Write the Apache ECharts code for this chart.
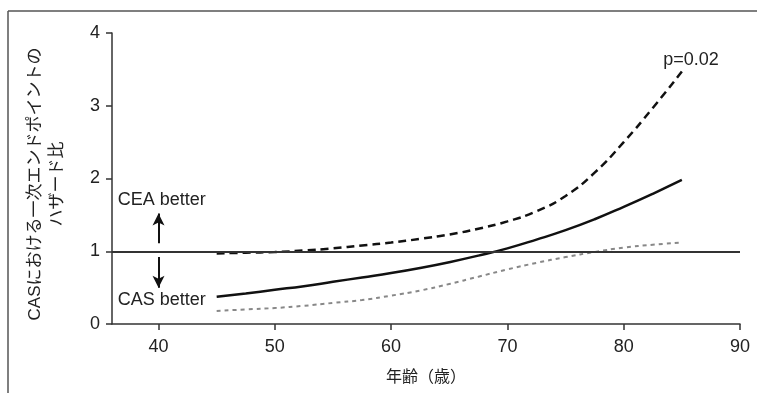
<!DOCTYPE html>
<html>
<head>
<meta charset="utf-8">
<script src="https://cdn.jsdelivr.net/npm/echarts@6/dist/echarts.min.js"></script>
<style>
html,body{margin:0;padding:0;background:#fff;}
#chart{width:757px;height:393px;}
</style>
</head>
<body>
<div id="chart"></div>
<script>
const ages = [45, 47.5, 50, 52.5, 55, 57.5, 60, 62.5, 65, 67.5, 70, 72.5, 75, 77.5, 80, 82.5, 85];
const hrEstimate = [0.375, 0.42, 0.47, 0.52, 0.58, 0.64, 0.70, 0.77, 0.85, 0.94, 1.04, 1.16, 1.29, 1.44, 1.61, 1.79, 1.98];
const hrUpper = [0.97, 0.98, 0.99, 1.01, 1.04, 1.08, 1.12, 1.17, 1.23, 1.31, 1.41, 1.55, 1.76, 2.08, 2.50, 2.97, 3.47];
const hrLower = [0.18, 0.20, 0.22, 0.25, 0.29, 0.33, 0.39, 0.46, 0.55, 0.65, 0.75, 0.84, 0.92, 0.99, 1.05, 1.09, 1.12];
const xTicks = [40, 50, 60, 70, 80, 90];
const yTicks = [0, 1, 2, 3, 4];
const referenceHR = 1;
const pLabel = 'p=0.02';
const xName = '年齢（歳）';
const yName = 'CASにおける一次エンドポイントの\nハザード比';

const FONT = '"Liberation Sans", Arial, "Noto Sans CJK JP", sans-serif';
const pair = (xs, ys) => xs.map((x, i) => [x, ys[i]]);

const chart = echarts.init(document.getElementById('chart'), null, {renderer: 'canvas'});
chart.setOption({
  animation: false,
  backgroundColor: '#fff',
  textStyle: {fontFamily: FONT},
  graphic: [
    {type: 'line', shape: {x1: 8, y1: 11, x2: 757, y2: 11}, style: {stroke: '#555', lineWidth: 1.5}},
    {type: 'line', shape: {x1: 8, y1: 11, x2: 8, y2: 393}, style: {stroke: '#555', lineWidth: 1.5}},
    {type: 'text', x: 46, y: 184, rotation: Math.PI / 2,
      style: {text: yName, font: '17px ' + FONT, fill: '#222', align: 'center', verticalAlign: 'middle', lineHeight: 22}}
  ],
  grid: {left: 112, right: 17, top: 33, bottom: 69, outerBoundsMode: 'none'},
  xAxis: {
    type: 'value', min: 36, max: 90,
    name: xName, nameLocation: 'middle', nameGap: 46,
    nameTextStyle: {fontSize: 16, color: '#222', fontFamily: FONT},
    axisLine: {show: true, lineStyle: {color: '#333', width: 1.5}},
    axisTick: {show: true, length: 6, lineStyle: {color: '#333', width: 1.5}, customValues: xTicks},
    axisLabel: {customValues: xTicks, fontSize: 18, color: '#222', margin: 14, fontFamily: FONT},
    splitLine: {show: false}
  },
  yAxis: {
    type: 'value', min: 0, max: 4, interval: 1,
    axisLine: {show: true, lineStyle: {color: '#333', width: 1.5}},
    axisTick: {show: true, length: 6, lineStyle: {color: '#333', width: 1.5}},
    axisLabel: {fontSize: 18, color: '#222', margin: 12, fontFamily: FONT,
      formatter: v => yTicks.includes(v) ? String(v) : ''},
    splitLine: {show: false}
  },
  series: [
    {
      name: 'upper', type: 'line', smooth: true, showSymbol: false,
      data: pair(ages, hrUpper),
      lineStyle: {color: '#111', width: 2.5, type: [8, 5]},
      z: 3
    },
    {
      name: 'lower', type: 'line', smooth: true, showSymbol: false,
      data: pair(ages, hrLower),
      lineStyle: {color: '#888', width: 2, type: [4, 4]},
      z: 3
    },
    {
      name: 'estimate', type: 'line', smooth: true, showSymbol: false,
      data: pair(ages, hrEstimate),
      lineStyle: {color: '#111', width: 2.5},
      z: 4,
      markLine: {
        silent: true, animation: false,
        data: [
          [{coord: [36, referenceHR], symbol: 'none', lineStyle: {color: '#333', width: 2, type: 'solid'}},
           {coord: [90, referenceHR], symbol: 'none'}],
          [{coord: [40, 1.11], symbol: 'none', lineStyle: {color: '#111', width: 2, type: 'solid'}},
           {coord: [40, 1.52], symbol: 'arrow', symbolSize: [9, 12]}],
          [{coord: [40, 0.92], symbol: 'none', lineStyle: {color: '#111', width: 2, type: 'solid'}},
           {coord: [40, 0.50], symbol: 'arrow', symbolSize: [9, 12]}]
        ],
        label: {show: false}
      },
      markPoint: {
        silent: true, symbol: 'circle', symbolSize: 0,
        label: {show: true, fontSize: 18, color: '#222', fontFamily: FONT, align: 'left', verticalAlign: 'middle', position: 'inside'},
        data: [
          {coord: [36.5, 1.70], value: 'CEA better', label: {formatter: 'CEA better'}},
          {coord: [36.5, 0.33], value: 'CAS better', label: {formatter: 'CAS better'}},
          {coord: [83.4, 3.63], value: pLabel, label: {formatter: pLabel}}
        ]
      }
    }
  ]
});
</script>
</body>
</html>
